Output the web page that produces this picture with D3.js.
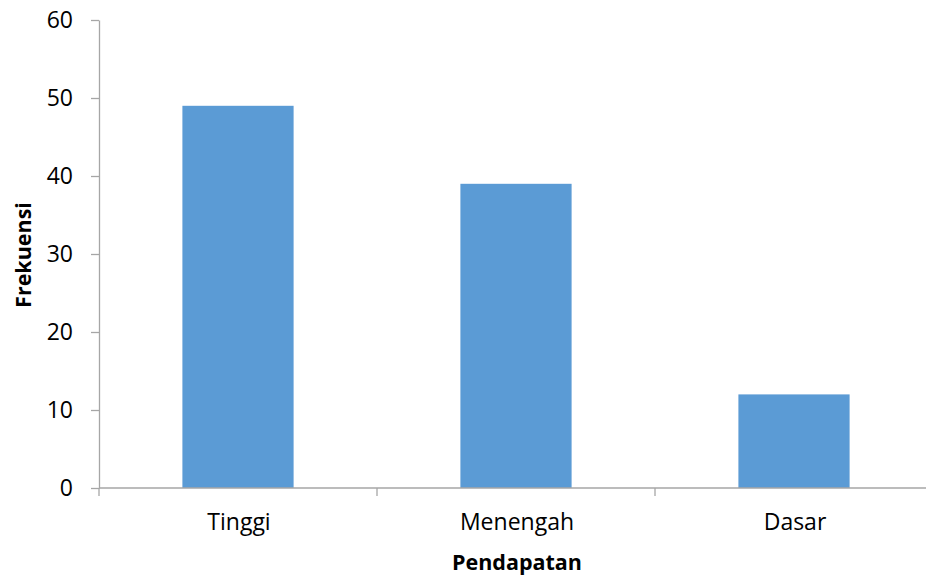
<!DOCTYPE html>
<html>
<head>
<meta charset="utf-8">
<script src="https://cdn.jsdelivr.net/npm/d3@7"></script>
<style>
  html, body { margin: 0; padding: 0; background: #fff; }
  svg { display: block; }
  text { font-family: "Open Sans", Lato, sans-serif; fill: #000; }
</style>
</head>
<body>
<svg id="chart" width="926" height="582"></svg>
<script>
// Frequency of respondents by income level
const categories = ["Tinggi", "Menengah", "Dasar"];
const frequencies = [49, 39, 12];
const yTicks = [0, 10, 20, 30, 40, 50, 60];
const xTitle = "Pendapatan";
const yTitle = "Frekuensi";

const svg = d3.select("#chart");
const plot = { left: 99, right: 933, top: 20, bottom: 488 };
const axisColor = "#A6A6A6";
const labelSize = "23px";
const titleSize = "21.5px";

const x = d3.scaleBand()
  .domain(categories)
  .range([plot.left, plot.right])
  .paddingInner(0.6)
  .paddingOuter(0.3);

const y = d3.scaleLinear()
  .domain([0, 60])
  .range([plot.bottom, plot.top]);

// Bars
svg.append("g")
  .selectAll("rect")
  .data(categories)
  .join("rect")
  .attr("x", d => x(d))
  .attr("width", x.bandwidth())
  .attr("y", (d, i) => y(frequencies[i]))
  .attr("height", (d, i) => y(0) - y(frequencies[i]))
  .attr("fill", "#5B9BD5");

// Y axis
const yAxis = svg.append("g")
  .attr("transform", `translate(${plot.left},0)`)
  .call(d3.axisLeft(y).tickValues(yTicks).tickSize(8).tickPadding(18).tickSizeOuter(0));
yAxis.select(".domain").attr("stroke", axisColor).attr("stroke-width", 1.3);
yAxis.selectAll(".tick line").attr("stroke", axisColor).attr("stroke-width", 1.3);
yAxis.selectAll(".tick text")
  .style("font-size", labelSize)
  .style("font-family", "'Open Sans', Lato, sans-serif")
  .attr("fill", "#000");

// X axis: ticks sit on the boundaries between categories
const xAxisG = svg.append("g").attr("transform", `translate(0,${plot.bottom})`);
xAxisG.append("line")
  .attr("x1", plot.left).attr("x2", 926)
  .attr("stroke", axisColor).attr("stroke-width", 1.3);
const boundaries = categories.map((d, i) => plot.left + i * x.step())
  .concat([plot.left + categories.length * x.step()]);
xAxisG.selectAll("line.tick")
  .data(boundaries)
  .join("line")
  .attr("class", "tick")
  .attr("x1", d => d).attr("x2", d => d)
  .attr("y1", 0).attr("y2", 8)
  .attr("stroke", axisColor).attr("stroke-width", 1.3);
xAxisG.selectAll("text")
  .data(categories)
  .join("text")
  .attr("x", d => x(d) + x.bandwidth() / 2 + 1)
  .attr("y", 42)
  .attr("text-anchor", "middle")
  .style("font-size", labelSize)
  .text(d => d);

// Axis titles
svg.append("text")
  .attr("x", x("Menengah") + x.bandwidth() / 2 + 1)
  .attr("y", 570)
  .attr("text-anchor", "middle")
  .style("font-size", titleSize)
  .style("font-weight", "bold")
  .text(xTitle);

svg.append("text")
  .attr("transform", `translate(31,255) rotate(-90)`)
  .attr("text-anchor", "middle")
  .style("font-size", titleSize)
  .style("font-weight", "bold")
  .text(yTitle);
</script>
</body>
</html>
